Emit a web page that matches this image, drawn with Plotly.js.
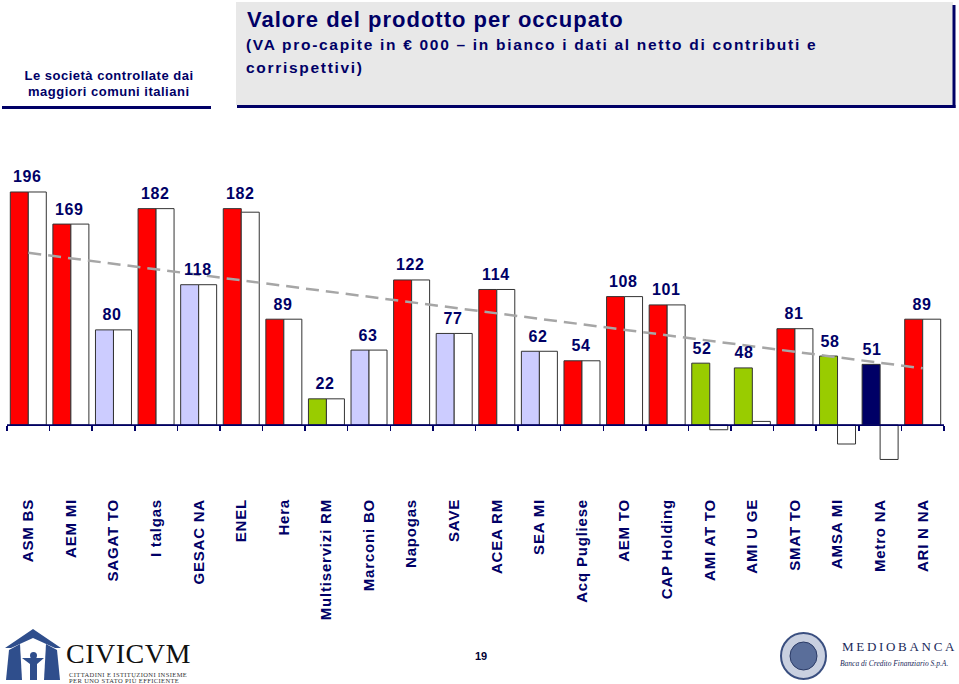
<!DOCTYPE html>
<html>
<head>
<meta charset="utf-8">
<script src="https://cdn.plot.ly/plotly-3.0.1.min.js"></script>
<style>
  html, body { margin: 0; padding: 0; background: #ffffff; }
  #chart { width: 959px; height: 684px; }
  .xtick text { letter-spacing: 0.8px; }
</style>
</head>
<body>
<div id="chart"></div>
<script>
// ---------------- DATA ----------------
const categories = ['ASM BS','AEM MI','SAGAT TO','I talgas','GESAC NA','ENEL','Hera','Multiservizi RM',
  'Marconi BO','Napogas','SAVE','ACEA RM','SEA MI','Acq Pugliese','AEM TO','CAP Holding',
  'AMI AT TO','AMI U GE','SMAT TO','AMSA MI','Metro NA','ARI N NA'];
// value added per employee (€ 000)
const vaGross = [196,169,80,182,118,182,89,22,63,122,77,114,62,54,108,101,52,48,81,58,51,89];
// white bars: net of contributions and fees
const vaNet   = [196,169,80,182,118,179,89,22,63,122,77,114,62,54,108,101,-4,3,81,-16,-29,89];
const sectors = ['utility','utility','airport','utility','airport','utility','utility','environment',
  'airport','utility','airport','utility','airport','utility','utility','utility',
  'environment','environment','utility','environment','transport','utility'];

const titleText = 'Valore del prodotto per occupato';
const subtitle1 = '(VA pro-capite in € 000 – in bianco i dati al netto di contributi e';
const subtitle2 = 'corrispettivi)';
const sideText1 = 'Le società controllate dai';
const sideText2 = 'maggiori comuni italiani';
const pageNumber = '19';

// ---------------- STYLE ----------------
const W = 959, H = 684;
const NAVY = '#000066';
const sectorColor = { utility: '#FF0000', airport: '#CCCCFF', environment: '#99CC00', transport: '#000066' };
const FONT = 'Liberation Sans, Arial, Helvetica, sans-serif';
const SERIF = 'Liberation Serif, Times New Roman, serif';

// plot area in pixels
const plotL = 7, plotR = 944, plotT = 170, plotB = 495;
const yMin = -58.9, yMax = 214.5;
const xd = [plotL / W, plotR / W];
const yd = [(H - plotB) / H, (H - plotT) / H];
const px = x => x / W;
const py = y => 1 - y / H;

// linear trend of gross values
const n = vaGross.length;
const idx = categories.map((_, i) => i);
const mx = idx.reduce((a, b) => a + b, 0) / n;
const my = vaGross.reduce((a, b) => a + b, 0) / n;
let sxy = 0, sxx = 0;
for (let i = 0; i < n; i++) { sxy += (i - mx) * (vaGross[i] - my); sxx += (i - mx) * (i - mx); }
const slope = sxy / sxx, icpt = my - slope * mx;
const trend = idx.map(i => icpt + slope * i);

const traces = [
  {
    type: 'bar', x: categories, y: vaGross, name: 'VA',
    marker: { color: sectors.map(s => sectorColor[s]), line: { color: '#333333', width: 1 } },
    hoverinfo: 'x+y', showlegend: false
  },
  {
    type: 'bar', x: categories, y: vaNet, name: 'VA netto',
    marker: { color: '#FFFFFF', line: { color: '#333333', width: 1 } },
    hoverinfo: 'x+y', showlegend: false
  },
  {
    type: 'scatter', mode: 'lines', x: categories, y: trend,
    line: { color: '#A6A6A6', width: 2.5, dash: '13px,7px' },
    hoverinfo: 'skip', showlegend: false
  },
  {
    type: 'scatter', mode: 'lines', x: [-0.5, 21.5], y: [0, 0], xaxis: 'x2', yaxis: 'y',
    line: { color: NAVY, width: 1.5 }, hoverinfo: 'skip', showlegend: false
  }
];

// letter spacing applied after drawing, keyed by text
const spacing = {};
const annotations = [];
categories.forEach((c, i) => {
  const overFirst = vaNet[i] < vaGross[i] / 2;
  annotations.push({
    x: c, y: vaGross[i], xref: 'x', yref: 'y', text: String(vaGross[i]),
    showarrow: false, yanchor: 'middle', yshift: 15, xshift: overFirst ? -8 : -1,
    font: { family: FONT, size: 16, color: NAVY, weight: 'bold' }
  });
  spacing[String(vaGross[i])] = 0.6;
});
function leftNote(text, x, y, font, ls) {
  annotations.push({ xref: 'paper', yref: 'paper', x: px(x), y: py(y), xanchor: 'left', yanchor: 'middle',
    align: 'left', text: text, showarrow: false, font: font });
  if (ls) spacing[text] = ls;
}
function centerNote(text, x, y, font, ls) {
  annotations.push({ xref: 'paper', yref: 'paper', x: px(x), y: py(y), xanchor: 'center', yanchor: 'middle',
    text: text, showarrow: false, font: font });
  if (ls) spacing[text] = ls;
}
leftNote(titleText, 245, 20, { family: FONT, size: 22, color: NAVY, weight: 'bold' }, 1.0);
leftNote(subtitle1, 244, 45, { family: FONT, size: 15.5, color: NAVY, weight: 'bold' }, 1.7);
leftNote(subtitle2, 244, 68, { family: FONT, size: 15.5, color: NAVY, weight: 'bold' }, 1.7);
centerNote(sideText1, 109, 75, { family: FONT, size: 13, color: NAVY, weight: 'bold' }, 0.5);
centerNote(sideText2, 109, 91, { family: FONT, size: 13, color: NAVY, weight: 'bold' }, 0.5);
centerNote(pageNumber, 481, 656, { family: FONT, size: 11, color: '#000033', weight: 'bold' }, 0);
// logos (text approximations)
leftNote('CIVICVM', 64, 653, { family: SERIF, size: 28, color: '#111111' }, 0.5);
leftNote('CITTADINI E ISTITUZIONI INSIEME', 67, 674.5, { family: SERIF, size: 6.5, color: '#333333' }, 0.4);
leftNote('PER UNO STATO PIÙ EFFICIENTE', 67, 680.5, { family: SERIF, size: 6.5, color: '#333333' }, 0.4);
leftNote('MEDIOBANCA', 840, 646, { family: SERIF, size: 13, color: '#1a2a5a' }, 2.7);
leftNote('<i>Banca di Credito Finanziario S.p.A.</i>', 838, 663, { family: SERIF, size: 7.5, color: '#1a2a5a' }, 0);

const shapes = [
  // title box
  { type: 'rect', xref: 'paper', yref: 'paper', x0: px(236), x1: px(953), y0: py(2), y1: py(105),
    fillcolor: '#E8E8E8', line: { width: 0 }, layer: 'below' },
  { type: 'line', xref: 'paper', yref: 'paper', x0: px(954), x1: px(954), y0: py(5), y1: py(108),
    line: { color: NAVY, width: 3 } },
  { type: 'line', xref: 'paper', yref: 'paper', x0: px(237), x1: px(955.5), y0: py(106.5), y1: py(106.5),
    line: { color: NAVY, width: 3 } },
  { type: 'line', xref: 'paper', yref: 'paper', x0: px(2), x1: px(211), y0: py(107.5), y1: py(107.5),
    line: { color: NAVY, width: 3 } },
  // CIVICVM icon
  { type: 'path', xref: 'paper', yref: 'paper',
    path: `M ${px(5)} ${py(648)} L ${px(33)} ${py(629)} L ${px(61)} ${py(648)} L ${px(55)} ${py(648)} L ${px(33)} ${py(638)} L ${px(11)} ${py(648)} Z`,
    fillcolor: '#2F4E8C', line: { width: 0 } },
  { type: 'path', xref: 'paper', yref: 'paper',
    path: `M ${px(9)} ${py(650)} L ${px(20)} ${py(644)} L ${px(22)} ${py(680)} L ${px(6)} ${py(680)} Z`,
    fillcolor: '#2F4E8C', line: { width: 0 } },
  { type: 'path', xref: 'paper', yref: 'paper',
    path: `M ${px(46)} ${py(644)} L ${px(57)} ${py(650)} L ${px(60)} ${py(680)} L ${px(44)} ${py(680)} Z`,
    fillcolor: '#2F4E8C', line: { width: 0 } },
  { type: 'circle', xref: 'paper', yref: 'paper', x0: px(30), x1: px(37), y0: py(652), y1: py(659),
    fillcolor: '#2F4E8C', line: { width: 0 } },
  { type: 'path', xref: 'paper', yref: 'paper',
    path: `M ${px(22)} ${py(658)} L ${px(44)} ${py(658)} L ${px(37)} ${py(664)} L ${px(37)} ${py(680)} L ${px(30)} ${py(680)} L ${px(30)} ${py(664)} Z`,
    fillcolor: '#2F4E8C', line: { width: 0 } },
  // Mediobanca seal
  { type: 'circle', xref: 'paper', yref: 'paper', x0: px(781), x1: px(826), y0: py(633), y1: py(679),
    fillcolor: '#C9D0E0', line: { color: '#3A4F80', width: 2 } },
  { type: 'circle', xref: 'paper', yref: 'paper', x0: px(790), x1: px(817), y0: py(642), y1: py(670),
    fillcolor: '#5A6E9A', line: { color: '#2A3A66', width: 1 } }
];

const layout = {
  width: W, height: H,
  margin: { l: 0, r: 0, t: 0, b: 0 },
  paper_bgcolor: '#FFFFFF', plot_bgcolor: 'rgba(0,0,0,0)',
  barmode: 'group', bargap: 0.155, bargroupgap: 0,
  showlegend: false,
  xaxis: {
    domain: xd, type: 'category', range: [-0.5, 21.5],
    showline: false, showgrid: false, zeroline: false, ticks: '',
    tickangle: -90, automargin: false,
    tickfont: { family: FONT, size: 15, color: NAVY, weight: 'bold' }
  },
  xaxis2: {
    domain: xd, overlaying: 'x', anchor: 'free',
    position: yd[0] + (0 - yMin) / (yMax - yMin) * (yd[1] - yd[0]),
    type: 'linear', range: [-0.5, 21.5], tickmode: 'linear', tick0: -0.5, dtick: 1,
    ticks: 'outside', ticklen: 5, tickwidth: 1.5, tickcolor: NAVY,
    showticklabels: false, showgrid: false, zeroline: false,
    showline: true, linecolor: NAVY, linewidth: 1.5
  },
  yaxis: {
    domain: yd, range: [yMin, yMax], visible: false,
    showgrid: false, zeroline: false, fixedrange: true
  },
  annotations: annotations,
  shapes: shapes
};

Plotly.newPlot('chart', traces, layout, { displayModeBar: false, staticPlot: true }).then(gd => {
  gd.querySelectorAll('.annotation-text').forEach(t => {
    const s = spacing[t.textContent];
    if (s) t.style.letterSpacing = s + 'px';
  });
});
</script>
</body>
</html>
